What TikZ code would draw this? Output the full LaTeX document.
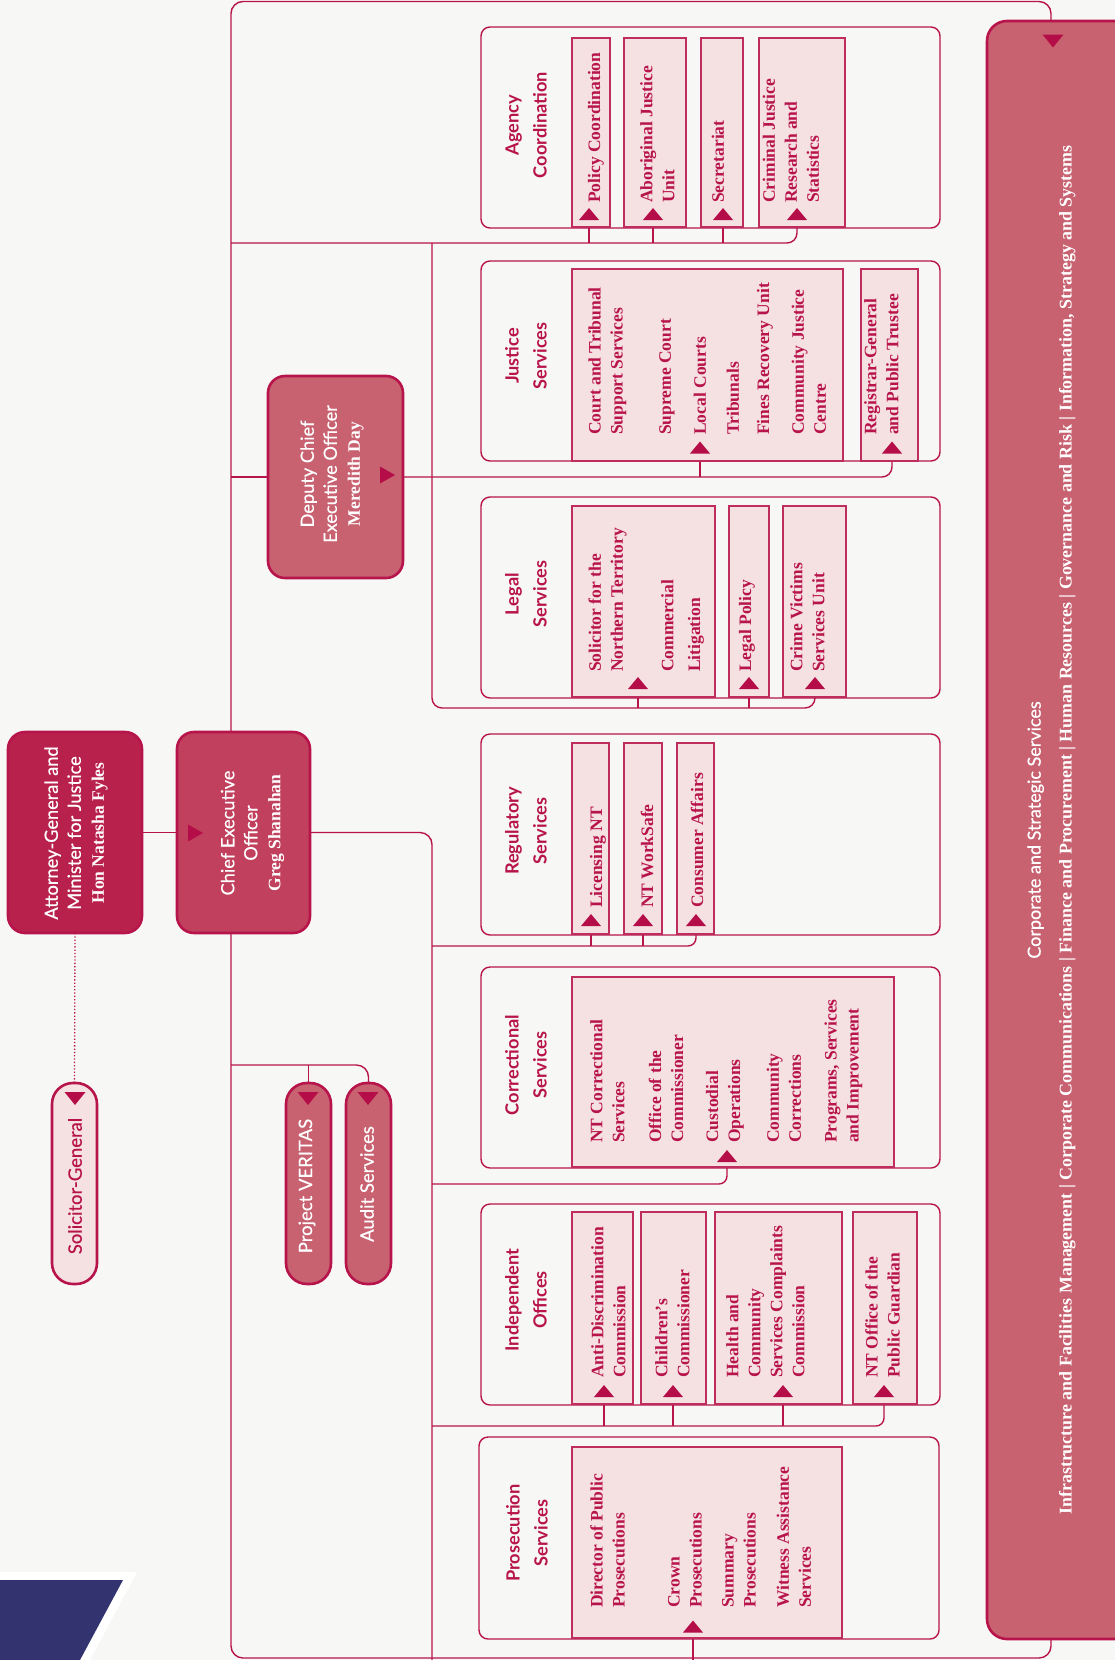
\documentclass[tikz,border=0pt]{standalone}
\usepackage{fontspec}
\setmainfont{Liberation Serif}
\newfontfamily\lato{Lato}
\newfontfamily\latom{Lato}[FakeBold=0.5]
\usetikzlibrary{fit}
\pgfdeclarelayer{bottom}
\pgfdeclarelayer{lines}
\pgfsetlayers{bottom,lines,main}
\definecolor{bg}{HTML}{F7F7F5}
\definecolor{crim}{HTML}{B8144C}
\definecolor{agfill}{HTML}{B9214D}
\definecolor{ceofill}{HTML}{C1405D}
\definecolor{rose}{HTML}{C86170}
\definecolor{pinkfill}{HTML}{F5E1E2}
\definecolor{tricol}{HTML}{B50D48}
\definecolor{navy}{HTML}{33336F}
\newcommand{\triup}[1]{\fill[tricol, shift={(#1)}] (-10,6) -- (10,6) -- (0,-6) -- cycle;}
\newcommand{\tridown}[1]{\fill[tricol, shift={(#1)}] (-10.5,-6.5) -- (10.5,-6.5) -- (0,6.5) -- cycle;}
\newcommand{\triright}[1]{\fill[tricol, shift={(#1)}] (-7.5,-8.5) -- (-7.5,8.5) -- (7.5,0) -- cycle;}
\newcommand{\itm}[4]{\node[itext] (#1) at (#2,#3) {#4};}
\newcommand{\pb}[5]{\node[pbox, fit={(#2,#3) (#4,#5)}] (#1) {};}
\begin{document}
\begin{tikzpicture}[x=1pt,y=-1pt,
 connline/.style={draw=crim, line width=1.4pt},
 secbox/.style={draw=crim, line width=1.4pt, rounded corners=9pt, inner sep=0pt, outer sep=0pt},
 pbox/.style={draw=crim!90, fill=pinkfill, line width=1.4pt, inner sep=0pt, outer sep=0pt},
 bigbox/.style={draw=crim, line width=2.6pt, rounded corners=17pt, inner sep=0pt, outer sep=0pt},
 pillbox/.style={draw=crim, line width=2.6pt, rounded corners=21pt, inner sep=0pt, outer sep=0pt},
 itext/.style={rotate=90, anchor=west, inner sep=0pt, align=left, text=crim, font=\fontsize{17.5}{22}\selectfont\bfseries},
 sechead/.style={rotate=90, inner sep=0pt, align=center, text=crim, font=\lato\bfseries\fontsize{18.2}{28}\selectfont},
 wtitle/.style={rotate=90, inner sep=0pt, align=center, text=white, font=\latom\fontsize{18.2}{23}\selectfont},
 pilltext/.style={rotate=90, inner sep=0pt, text=white, font=\latom\fontsize{18.5}{20}\selectfont},
]
\useasboundingbox (0,0) rectangle (1115,1660);
\begin{pgfonlayer}{bottom}
\fill[bg] (0,0) rectangle (1115,1660);
\fill[white] (0,1572) -- (137,1572) -- (90,1660) -- (0,1660) -- cycle;
\fill[navy] (0,1580) -- (123,1580) -- (80,1660) -- (0,1660) -- cycle;
\end{pgfonlayer}

% ---------- coordinates ----------
\coordinate (fr) at (231,0);
\coordinate (acbus) at (231,243);
\coordinate (spine) at (432,243);
\coordinate (lsbus) at (432,708);
\coordinate (rsbus) at (432,946);
\coordinate (csbus) at (432,1184);
\coordinate (iobus) at (432,1426);
\coordinate (vbus) at (231,1065);
\coordinate (ceobus) at (432,0);
\coordinate (bot) at (0,1662);

% triangle positions
\coordinate (t-ac1) at (589,214);
\coordinate (t-ac2) at (653,214);
\coordinate (t-ac3) at (723,214);
\coordinate (t-ac4) at (797,214);
\coordinate (t-js1) at (700,447.5);
\coordinate (t-js2) at (892,447.5);
\coordinate (t-ls1) at (638,683);
\coordinate (t-ls2) at (749,683);
\coordinate (t-ls3) at (815,683);
\coordinate (t-rs1) at (591,920);
\coordinate (t-rs2) at (643,920);
\coordinate (t-rs3) at (696,920);
\coordinate (t-cs1) at (727,1156);
\coordinate (t-io1) at (604,1391);
\coordinate (t-io2) at (673,1391);
\coordinate (t-io3) at (783,1391);
\coordinate (t-io4) at (884,1391);
\coordinate (t-ps1) at (693,1626.5);

% ---------- section frames ----------
\node[secbox, fit={(481,27) (940,228)}] (s-ac) {};
\node[secbox, fit={(481,261) (940,461)}] (s-js) {};
\node[secbox, fit={(481,497) (940,698)}] (s-ls) {};
\node[secbox, fit={(481,734) (940,935)}] (s-rs) {};
\node[secbox, fit={(481,967) (940,1168)}] (s-cs) {};
\node[secbox, fit={(481,1204) (940,1405)}] (s-io) {};
\node[secbox, fit={(479,1437) (939,1639)}] (s-ps) {};

% ---------- pink unit boxes ----------
\pb{ac1}{572}{38}{610}{227}
\pb{ac2}{624}{38}{686}{227}
\pb{ac3}{701}{38}{743}{227}
\pb{ac4}{759}{38}{845}{227}
\pb{js1}{572}{269}{843}{461}
\pb{js2}{861}{269}{918}{461}
\pb{ls1}{572}{506}{715}{697}
\pb{ls2}{729}{506}{769}{697}
\pb{ls3}{783}{506}{846}{697}
\pb{rs1}{572}{743}{609}{934}
\pb{rs2}{624}{743}{662}{934}
\pb{rs3}{677}{743}{714}{934}
\pb{cs1}{572}{977}{894}{1167}
\pb{io1}{572}{1212}{633}{1404}
\pb{io2}{641}{1212}{706}{1404}
\pb{io3}{715}{1212}{842}{1404}
\pb{io4}{853}{1212}{917}{1404}
\pb{ps1}{572}{1447}{842}{1638}

% ---------- main boxes ----------
\node[bigbox, fill=agfill, fit={(8,732) (142,933)}] (ag) {};
\node[bigbox, fill=ceofill, fit={(177,732) (310,933)}] (ceo) {};
\node[bigbox, fill=rose, fit={(268,376) (403,578)}] (dceo) {};
\node[pillbox, fill=pinkfill, fit={(52,1083) (97,1284)}] (sg) {};
\node[pillbox, fill=rose, fit={(286,1083) (331,1284)}] (ver) {};
\node[pillbox, fill=rose, fit={(346,1083) (391,1284)}] (aud) {};
\node[bigbox, rounded corners=20pt, fill=rose, fit={(987,21) (1140,1639)}] (corp) {};

% ---------- connectors (drawn beneath the boxes) ----------
\begin{pgfonlayer}{lines}
\draw[connline, rounded corners=12pt] (corp.north -| 1051,0) -- (1051,1.5) -- (231,1.5) -- (231,1658) -- (1051,1658) -- (corp.south -| 1051,0);
\draw[connline] (ag.east) -- (ceo.west);
\draw[crim, line width=1.3pt, dotted] (ag.south) -- (sg.north);
\draw[connline, rounded corners=12pt] (ceo.east) -- (ceobus |- ceo.east) -- (ceobus |- bot);
\draw[connline, rounded corners=12pt] (vbus) -- (aud.north |- vbus) -- (aud.north);
\draw[connline] (ver.north |- vbus) -- (ver.north);
% agency
\draw[connline, rounded corners=10pt] (acbus) -- (t-ac4 |- acbus) -- (t-ac4 |- ac4.south);
\draw[connline] (t-ac1 |- acbus) -- (t-ac1 |- ac1.south);
\draw[connline] (t-ac2 |- acbus) -- (t-ac2 |- ac2.south);
\draw[connline] (t-ac3 |- acbus) -- (t-ac3 |- ac3.south);
% justice via deputy
\draw[connline] (dceo.west -| fr) -- (dceo.west);
\draw[connline, rounded corners=10pt] (dceo.east) -- (t-js2 |- dceo.east) -- (t-js2 |- js2.south);
\draw[connline] (t-js1 |- dceo.east) -- (t-js1 |- js1.south);
% legal
\draw[connline, rounded corners=10pt] (spine) -- (lsbus) -- (t-ls3 |- lsbus) -- (t-ls3 |- ls3.south);
\draw[connline] (t-ls1 |- lsbus) -- (t-ls1 |- ls1.south);
\draw[connline] (t-ls2 |- lsbus) -- (t-ls2 |- ls2.south);
% regulatory
\draw[connline, rounded corners=8pt] (rsbus) -- (t-rs3 |- rsbus) -- (t-rs3 |- rs3.south);
\draw[connline] (t-rs1 |- rsbus) -- (t-rs1 |- rs1.south);
\draw[connline] (t-rs2 |- rsbus) -- (t-rs2 |- rs2.south);
% correctional
\draw[connline, rounded corners=8pt] (csbus) -- (t-cs1 |- csbus) -- (t-cs1 |- cs1.south);
% independent
\draw[connline, rounded corners=8pt] (iobus) -- (t-io4 |- iobus) -- (t-io4 |- io4.south);
\draw[connline] (t-io1 |- iobus) -- (t-io1 |- io1.south);
\draw[connline] (t-io2 |- iobus) -- (t-io2 |- io2.south);
\draw[connline] (t-io3 |- iobus) -- (t-io3 |- io3.south);
% prosecution
\draw[connline] (t-ps1 |- ps1.south) -- (t-ps1 |- bot);
\end{pgfonlayer}

% ---------- triangles ----------
\triup{t-ac1}\triup{t-ac2}\triup{t-ac3}\triup{t-ac4}
\triup{t-js1}\triup{t-js2}
\triup{t-ls1}\triup{t-ls2}\triup{t-ls3}
\triup{t-rs1}\triup{t-rs2}\triup{t-rs3}
\triup{t-cs1}
\triup{t-io1}\triup{t-io2}\triup{t-io3}\triup{t-io4}
\triup{t-ps1}
\coordinate (t-ceo) at (195.5,833);
\coordinate (t-dceo) at (387.5,475);
\coordinate (t-sg) at (75,1098.5);
\coordinate (t-ver) at (308,1098.5);
\coordinate (t-aud) at (368,1098.5);
\coordinate (t-corp) at (1053,41);
\triright{t-ceo}\triright{t-dceo}
\tridown{t-sg}\tridown{t-ver}\tridown{t-aud}\tridown{t-corp}

% ---------- section headings ----------
\node[sechead] (h-ac) at (526,125) {Agency\\Coordination};
\node[sechead] (h-js) at (526,356) {Justice\\Services};
\node[sechead] (h-ls) at (526,594) {Legal\\Services};
\node[sechead] (h-rs) at (526,831) {Regulatory\\Services};
\node[sechead] (h-cs) at (526,1065) {Correctional\\Services};
\node[sechead] (h-io) at (526,1300) {Independent\\Offices};
\node[sechead] (h-ps) at (527,1533) {Prosecution\\Services};

% ---------- unit texts ----------
\itm{x-ac1}{596}{203}{Policy Coordination}
\itm{x-ac2}{657.5}{203}{Aboriginal Justice\\Unit}
\itm{x-ac3}{718}{203}{Secretariat}
\itm{x-ac4}{791}{203}{Criminal Justice\\Research and\\Statistics}

\itm{x-js1}{607.5}{435}{Court and Tribunal\\Support Services}
\itm{x-js2}{667}{435}{Supreme Court}
\itm{x-js3}{700}{435}{Local Courts}
\itm{x-js4}{733}{435}{Tribunals}
\itm{x-js5}{765}{435}{Fines Recovery Unit}
\itm{x-js6}{809}{435}{Community Justice\\Centre}
\itm{x-js7}{881.5}{435}{Registrar-General\\and Public Trustee}

\itm{x-ls1}{607.5}{672}{Solicitor for the\\Northern Territory}
\itm{x-ls2}{667.5}{672}{Commercial}
\itm{x-ls3}{696}{672}{Litigation}
\itm{x-ls4}{747}{672}{Legal Policy}
\itm{x-ls5}{807.5}{672}{Crime Victims\\Services Unit}

\itm{x-rs1}{598}{908}{Licensing NT}
\itm{x-rs2}{647}{908}{NT WorkSafe}
\itm{x-rs3}{697}{908}{Consumer Affairs}

\itm{x-cs1}{607.5}{1143}{NT Correctional\\Services}
\itm{x-cs2}{666}{1143}{Office of the\\Commissioner}
\itm{x-cs3}{725}{1143}{Custodial\\Operations}
\itm{x-cs4}{784}{1143}{Community\\Corrections}
\itm{x-cs5}{843.5}{1143}{Programs, Services\\and Improvement}

\itm{x-io1}{608.5}{1378}{Anti-Discrimination\\Commission}
\itm{x-io2}{672.5}{1378}{Children’s\\Commissioner}
\itm{x-io3}{765.5}{1378}{Health and\\Community\\Services Complaints\\Commission}
\itm{x-io4}{882.5}{1378}{NT Office of the\\Public Guardian}

\itm{x-ps1}{607.5}{1608}{Director of Public\\Prosecutions}
\itm{x-ps2}{685}{1608}{Crown\\Prosecutions}
\itm{x-ps3}{739}{1608}{Summary\\Prosecutions}
\itm{x-ps4}{794}{1608}{Witness Assistance\\Services}

% ---------- main box texts ----------
\node[wtitle] (ag-t) at (76,833) {Attorney-General and\\Minister for Justice\\\rmfamily\bfseries\fontsize{17.5}{23}\selectfont Hon Natasha Fyles};
\node[wtitle] (ceo-t) at (252.5,833) {Chief Executive\\Officer\\\rmfamily\bfseries\fontsize{17.5}{23}\selectfont Greg Shanahan};
\node[wtitle] (dceo-t) at (332,474) {Deputy Chief\\Executive Officer\\\rmfamily\bfseries\fontsize{17.5}{23}\selectfont Meredith Day};
\node[pilltext, text=crim] (sg-t) at (75,1186) {Solicitor-General};
\node[pilltext] (ver-t) at (307,1186) {Project VERITAS};
\node[pilltext] (aud-t) at (367,1184) {Audit Services};
\node[wtitle, font=\latom\fontsize{18}{31}\selectfont] (corp-t) at (1051.5,830) {Corporate and Strategic Services\\\rmfamily\bfseries\fontsize{17.9}{31}\selectfont Infrastructure and Facilities Management | Corporate Communications | Finance and Procurement | Human Resources | Governance and Risk | Information, Strategy and Systems};
\end{tikzpicture}
\end{document}
